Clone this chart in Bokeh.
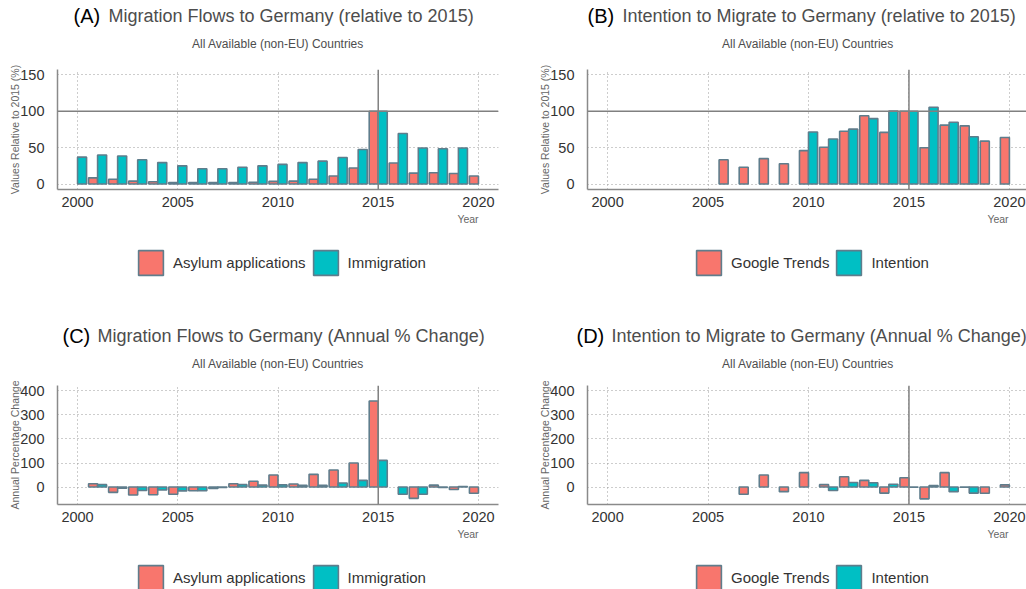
import numpy as np
from bokeh.plotting import figure
from bokeh.models import Range1d, FixedTicker, Span, Label, Legend, LegendItem
from bokeh.layouts import column, row
from bokeh.embed import file_html
from bokeh.resources import INLINE

# ---------------- data ----------------
year_ticks = [2000, 2005, 2010, 2015, 2020]
rel_ticks = [0, 50, 100, 150]
chg_ticks = [0, 100, 200, 300, 400]

# (A) relative to 2015
imm_years = list(range(2000, 2020))
imm_rel = [37, 40, 38.5, 33.5, 29.5, 25, 21, 21, 23, 25, 27, 29.5, 31.5, 36.5, 47.5, 100, 69.5, 49.5, 48.5, 49.5]
asy_years = list(range(2001, 2021))
asy_rel = [8.5, 6.5, 4, 3.2, 2, 2, 2, 2, 2.5, 3.7, 4, 6.5, 11, 22, 100, 29, 15, 15.5, 14.5, 11]

# (B) relative to 2015
gt_years = list(range(2006, 2021))
gt_rel = [33.5, 23, 35, 28, 46, 50.5, 72.5, 94, 71, 100, 50, 81, 80, 59, 64]
int_years = list(range(2010, 2019))
int_rel = [71.5, 62, 75.5, 90, 100.5, 100, 105.5, 85, 65]

# (C) annual % change
asy_chg_years = [2001, 2002, 2003, 2004, 2005, 2006, 2007, 2008, 2009, 2010, 2011, 2012, 2013, 2014, 2015, 2017, 2018, 2019, 2020]
asy_chg = [14, -22, -33, -32, -30, -15, -6, 14, 24, 50, 13, 53, 71, 100, 358, -47, 8, -10, -26]
imm_chg_years = list(range(2001, 2020))
imm_chg = [10, -5, -14, -12, -16, -15, -2, 10, 8, 9, 7, 7, 17, 28, 111, -30, -30, -2, 2]

# (D) annual % change
gt_chg_years = list(range(2007, 2021))
gt_chg = [-30, 50, -19, 60, 10, 43, 28, -25, 39, -49, 60, -1, -26, 9]
int_chg_years = list(range(2011, 2019))
int_chg = [-14, 19, 18, 12, -1, 6, -19, -25]

# ---------------- styles ----------------
RED = "#F8766D"
TEAL = "#00BFC4"
OUTLINE = "#5f7d8c"
FONT = "Liberation Sans"
GRID = "#9a9a9a"
REF = "#808080"
SUB = "All Available (non-EU) Countries"
W = 1026


def blank(w, h):
    p = figure(width=w, height=h, x_range=Range1d(0, w), y_range=Range1d(h, 0),
               min_border=0, min_border_left=0, min_border_right=0,
               min_border_top=0, min_border_bottom=0,
               x_axis_location=None, y_axis_location=None,
               output_backend="svg", toolbar_location=None)
    p.grid.visible = False
    p.outline_line_color = None
    p.background_fill_color = "white"
    p.border_fill_color = "white"
    return p


def lab(p, x, y, text, size, color, align="left", baseline="middle"):
    p.add_layout(Label(x=x, y=y, text=text, text_font=FONT, text_font_size=size,
                       text_color=color, text_align=align, text_baseline=baseline))


def add_title(p, tag, tag_x, title, title_x, mid_y, sub_x, sub_y):
    lab(p, tag_x, mid_y, tag, "20px", "#000000")
    lab(p, title_x, mid_y, title, "18px", "#4d4d4d")
    lab(p, sub_x, sub_y, SUB, "12px", "#4d4d4d", align="center")


def main_fig(left, fw, right, fh, xr, yr, yticks, ylabel, hline):
    p = figure(frame_width=fw, frame_height=fh,
               min_border_left=left, min_border_right=right,
               min_border_top=9, min_border_bottom=24,
               x_range=Range1d(*xr), y_range=Range1d(*yr),
               output_backend="svg", toolbar_location=None)
    p.background_fill_color = "white"
    p.border_fill_color = "white"
    p.outline_line_color = None
    for ax, ticks in ((p.xaxis, year_ticks), (p.yaxis, yticks)):
        ax.ticker = FixedTicker(ticks=ticks)
        ax.major_tick_line_color = None
        ax.minor_tick_line_color = None
        ax.axis_line_color = "#8a8a8a"
        ax.axis_line_width = 1.5
        ax.major_label_text_font = FONT
        ax.major_label_text_font_size = "14.5px"
        ax.major_label_text_color = "#333333"
    p.xaxis.major_label_standoff = 1
    p.yaxis.major_label_standoff = 7
    p.yaxis.axis_label = ylabel
    p.yaxis.axis_label_standoff = -4
    p.yaxis.axis_label_text_font = FONT
    p.yaxis.axis_label_text_font_size = "10.5px"
    p.yaxis.axis_label_text_font_style = "normal"
    p.yaxis.axis_label_text_color = "#666666"
    for g in (p.xgrid, p.ygrid):
        g.grid_line_color = GRID
        g.grid_line_dash = "1 3"
        g.grid_line_width = 1
    p.add_layout(Span(location=2015, dimension="height", line_color=REF, line_width=1.5))
    if hline is not None:
        p.add_layout(Span(location=hline, dimension="width", line_color=REF, line_width=1.5))
    return p


def bars(p, ya, va, yb, vb):
    p.vbar(x=[y - 0.225 for y in ya], top=va, bottom=0, width=0.45,
           fill_color=RED, line_color=OUTLINE, line_width=1.6)
    p.vbar(x=[y + 0.225 for y in yb], top=vb, bottom=0, width=0.45,
           fill_color=TEAL, line_color=OUTLINE, line_width=1.6)


def add_legend(p, la, lb, loc):
    nan = float("nan")
    ra = p.vbar(x=[nan], top=[nan], width=1, fill_color=RED, line_color=OUTLINE, line_width=1.6)
    rb = p.vbar(x=[nan], top=[nan], width=1, fill_color=TEAL, line_color=OUTLINE, line_width=1.6)
    leg = Legend(items=[LegendItem(label=la, renderers=[ra]), LegendItem(label=lb, renderers=[rb])],
                 orientation="horizontal", location=loc,
                 glyph_width=31, glyph_height=31, label_height=31, label_standoff=7,
                 spacing=4, padding=0, margin=0,
                 border_line_alpha=0, background_fill_alpha=0,
                 label_text_font=FONT, label_text_font_size="15px", label_text_color="#333333")
    p.add_layout(leg)


xA = (1999.0, 2021.0)
xB = (1999.0, 1999.0 + 439 * 22 / 442)
yRel = (-7.5, 157.5)
yChg = (-72.5, 422.5)

# Row 1 titles
t1 = blank(W, 60)
add_title(t1, "(A)", 73, "Migration Flows to Germany (relative to 2015)", 108, 15.5, 277.5, 43.3)
add_title(t1, "(B)", 587, "Intention to Migrate to Germany (relative to 2015)", 622, 15.5, 807.5, 43.3)

mA = main_fig(57, 441, 15, 120, xA, yRel, rel_ticks, "Values Relative to 2015 (%)", 100)
bars(mA, asy_years, asy_rel, imm_years, imm_rel)
mB = main_fig(74, 439, 0, 120, xB, yRel, rel_ticks, "Values Relative to 2015 (%)", 100)
bars(mB, gt_years, gt_rel, int_years, int_rel)

# Row 1 legends + x labels
l1 = blank(W, 105)
add_legend(l1, "Asylum applications", "Immigration", (135, 40))
add_legend(l1, "Google Trends", "Intention", (693, 40))
lab(l1, 467.5, 5, "Year", "10.5px", "#666666", align="center")
lab(l1, 997.5, 5, "Year", "10.5px", "#666666", align="center")

# Row 2 titles
t2 = blank(W, 58)
add_title(t2, "(C)", 62, "Migration Flows to Germany (Annual % Change)", 97, 17.5, 277.5, 45.3)
add_title(t2, "(D)", 576, "Intention to Migrate to Germany (Annual % Change)", 611, 17.5, 807.5, 45.3)

mC = main_fig(57, 441, 15, 119, xA, yChg, chg_ticks, "Annual Percentage Change", None)
bars(mC, asy_chg_years, asy_chg, imm_chg_years, imm_chg)
mD = main_fig(74, 439, 0, 119, xB, yChg, chg_ticks, "Annual Percentage Change", None)
bars(mD, gt_chg_years, gt_chg, int_chg_years, int_chg)

# Row 2 legends + x labels
l2 = blank(W, 61)
add_legend(l2, "Asylum applications", "Immigration", (135, -4))
add_legend(l2, "Google Trends", "Intention", (693, -4))
lab(l2, 467.5, 5.5, "Year", "10.5px", "#666666", align="center")
lab(l2, 997.5, 5.5, "Year", "10.5px", "#666666", align="center")

layout = column(t1, row(mA, mB, spacing=0), l1, t2, row(mC, mD, spacing=0), l2, spacing=0)
open("out.html", "w").write(file_html(layout, INLINE))
